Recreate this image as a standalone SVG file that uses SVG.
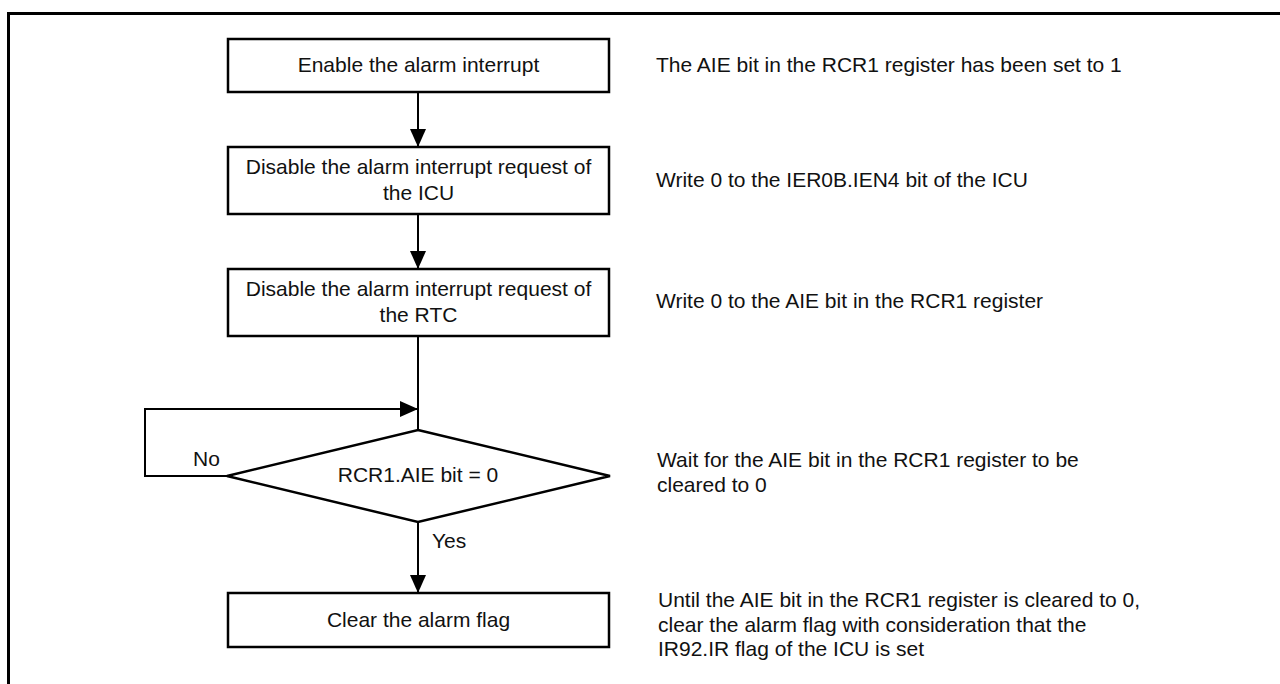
<svg xmlns="http://www.w3.org/2000/svg" width="1280" height="684" viewBox="0 0 1280 684">
<style>
text{font-family:"Liberation Sans",Arial,sans-serif;font-size:21px;fill:#111}
.c{text-anchor:middle}
.box{fill:#fff;stroke:#000;stroke-width:2.5}
.ln{fill:none;stroke:#000;stroke-width:2}
</style>
<defs>
<marker id="ah" viewBox="0 0 18 16" refX="18" refY="8" markerWidth="18" markerHeight="16" markerUnits="userSpaceOnUse" orient="auto">
<path d="M0,0 L18,8 L0,16 Z" fill="#000"/>
</marker>
</defs>
<rect width="1280" height="684" fill="#fff"/>
<g id="frame">
<path d="M8.5,684 V13.5 H1280" fill="none" stroke="#000" stroke-width="3"/>
</g>
<g id="connectors">
<line class="ln" x1="418" y1="92" x2="418" y2="147" marker-end="url(#ah)"/>
<line class="ln" x1="418" y1="214" x2="418" y2="269" marker-end="url(#ah)"/>
<line class="ln" x1="418" y1="336" x2="418" y2="430"/>
<path class="ln" d="M227,476 H145 V409 H418" marker-end="url(#ah)"/>
<line class="ln" x1="418" y1="522" x2="418" y2="593" marker-end="url(#ah)"/>
<text x="193" y="466">No</text>
<text x="432" y="548">Yes</text>
</g>
<g id="n1">
<rect class="box" x="228" y="39" width="381" height="53"/>
<text class="c" x="418.5" y="72">Enable the alarm interrupt</text>
</g>
<g id="n2">
<rect class="box" x="228" y="147" width="381" height="67"/>
<text class="c" x="418.5" y="174">Disable the alarm interrupt request of</text>
<text class="c" x="418.5" y="200">the ICU</text>
</g>
<g id="n3">
<rect class="box" x="228" y="269" width="381" height="67"/>
<text class="c" x="418.5" y="296">Disable the alarm interrupt request of</text>
<text class="c" x="418.5" y="322">the RTC</text>
</g>
<g id="n4">
<polygon class="box" points="418,430 610,476 418,522 227,476"/>
<text class="c" x="418" y="482">RCR1.AIE bit = 0</text>
</g>
<g id="n5">
<rect class="box" x="228" y="593" width="381" height="54"/>
<text class="c" x="418.5" y="627">Clear the alarm flag</text>
</g>
<g id="notes">
<text x="656" y="72">The AIE bit in the RCR1 register has been set to 1</text>
<text x="656" y="187">Write 0 to the IER0B.IEN4 bit of the ICU</text>
<text x="656" y="308">Write 0 to the AIE bit in the RCR1 register</text>
<text x="657" y="467">Wait for the AIE bit in the RCR1 register to be</text>
<text x="657" y="492">cleared to 0</text>
<text x="658" y="607">Until the AIE bit in the RCR1 register is cleared to 0,</text>
<text x="658" y="632">clear the alarm flag with consideration that the</text>
<text x="658" y="656">IR92.IR flag of the ICU is set</text>
</g>
</svg>
